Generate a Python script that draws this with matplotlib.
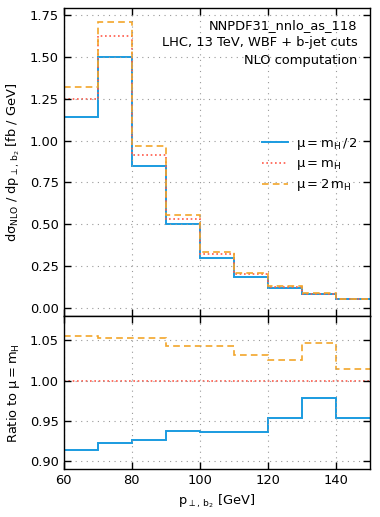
import numpy as np
import matplotlib
matplotlib.use("Agg")
import matplotlib.pyplot as plt

plt.rcParams['font.family'] = ['DejaVu Sans']
plt.rcParams['mathtext.default'] = 'regular'

# bin edges [GeV]
edges = [60, 70, 80, 90, 100, 110, 120, 130, 140, 150]
# NLO cross section [fb/GeV]
xs_half = [1.1434, 1.4980, 0.8500, 0.5009, 0.3014, 0.1874, 0.1220, 0.0822, 0.0515]
xs_one = [1.251, 1.623, 0.917, 0.534, 0.322, 0.200, 0.128, 0.084, 0.054]
xs_two = [1.3198, 1.7090, 0.9656, 0.5570, 0.3358, 0.2064, 0.1312, 0.0879, 0.0548]

labels = [r'$\mu = m_H\,/\,2$', r'$\mu = m_H$', r'$\mu = 2\,m_H$']
info_lines = ['NNPDF31_nnlo_as_118', 'LHC, 13 TeV, WBF + b-jet cuts', 'NLO computation']

c_blue = '#1a9be0'
c_red = '#ff5a4a'
c_orange = '#f2a52a'
FS = 9.4

fig = plt.figure(figsize=(3.80, 5.17), dpi=100)
ax1 = fig.add_axes([0.1676, 0.3888, 0.8054, 0.5948])
ax2 = fig.add_axes([0.1676, 0.0919, 0.8054, 0.2969], sharex=ax1)

e = np.array(edges)
def stairs(ax, vals, **kw):
    v = np.array(vals)
    return ax.stairs(v, e, baseline=None, **kw)

styles = [dict(color=c_blue, lw=1.4, ls='-'),
          dict(color=c_red, lw=1.2, ls=(0, (1, 1.6))),
          dict(color=c_orange, lw=1.2, ls=(0, (4, 2.5)))]
series = [xs_half, xs_one, xs_two]
handles = []
for s, st, lab in zip(series, styles, labels):
    stairs(ax1, s, **st)
    h, = ax1.plot([], [], label=lab, **st)
    handles.append(h)
ref = np.array(xs_one)
for s, st in zip(series, styles):
    stairs(ax2, np.array(s) / ref, **st)

ax1.set_xlim(60, 150)
ax1.set_ylim(-0.048, 1.79)
ax1.set_yticks([0.0, 0.25, 0.5, 0.75, 1.0, 1.25, 1.5, 1.75])
ax2.set_ylim(0.89, 1.08)
ax2.set_yticks([0.90, 0.95, 1.00, 1.05])
ax2.set_xticks([60, 80, 100, 120, 140])

for ax in (ax1, ax2):
    ax.grid(True, ls=(0, (1, 4)), color='#999999', lw=0.8)
    ax.tick_params(direction='in', top=True, right=True, length=5, width=1, labelsize=FS)
    for sp in ax.spines.values():
        sp.set_linewidth(1.0)
plt.setp(ax1.get_xticklabels(), visible=False)

ax1.set_ylabel(r'd$\sigma_{NLO}$ / dp$_{\perp,\,b_2}$ [fb / GeV]', fontsize=FS)
ax2.set_ylabel(r'Ratio to $\mu = m_H$', fontsize=FS)
ax2.set_xlabel(r'p$_{\perp,\,b_2}$ [GeV]', fontsize=FS)
ax1.yaxis.set_label_coords(-0.135, 0.5)
ax2.yaxis.set_label_coords(-0.135, 0.5)

for i, t in enumerate(info_lines):
    ax1.text(0.96, 0.967 - i * 0.058, t, transform=ax1.transAxes, ha='right', va='top', fontsize=FS)

ax1.legend(handles=handles, loc='center right', bbox_to_anchor=(1.0, 0.492), frameon=False,
           fontsize=FS, handlelength=2.0, labelspacing=0.4, handletextpad=0.6)

fig.savefig('out.png', dpi=100)
